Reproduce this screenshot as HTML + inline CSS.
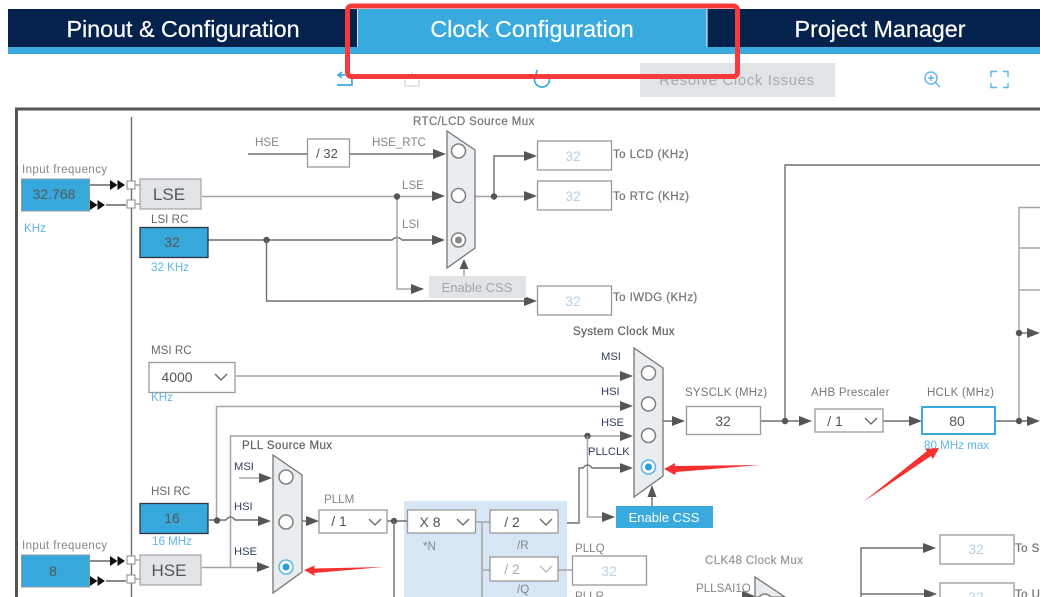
<!DOCTYPE html>
<html><head><meta charset="utf-8"><style>
html,body{margin:0;padding:0;background:#fff;width:1040px;height:597px;overflow:hidden}
svg{display:block;filter:blur(.35px)}
text{font-family:"Liberation Sans",sans-serif}
.w{fill:none;stroke:#6f6f6f;stroke-width:1.4}
.g{fill:none;stroke:#a5a5a5;stroke-width:1.5}
.l{font-size:11.6px;fill:#858585}
.ls{font-size:11.5px;fill:#858585;letter-spacing:.42px}
.b{font-size:11.5px;fill:#777;stroke:#777;stroke-width:.25;letter-spacing:.42px}
.n{font-size:11.2px;fill:#33415f}
.u{font-size:11.6px;fill:#5db6e2}
.v{font-size:14px;fill:#555;text-anchor:middle}
.f{font-size:14px;fill:#b9cfe6;text-anchor:middle}
.box{fill:#fff;stroke:#999;stroke-width:1.3}
.blue{fill:#36a8dc;stroke:#334;stroke-width:1.3}
.blue2{fill:#36a8dc;stroke:#8a9aa5;stroke-width:1}
.gray{fill:#e1e4e7;stroke:#aaa;stroke-width:1.3}
.mux{fill:#e9edf0;stroke:#777;stroke-width:1.3}
.c{fill:#fff;stroke:#808080;stroke-width:1.5}
.dot{fill:#555}
.arr{fill:#555}
.chev{fill:none;stroke:#666;stroke-width:1.3}
.tab{font-size:23.3px;fill:#fff;text-anchor:middle;stroke:#fff;stroke-width:.2}
</style></head><body>
<svg width="1040" height="597" viewBox="0 0 1040 597" xmlns="http://www.w3.org/2000/svg">
<defs>
<path id="a" d="M-13,-5 L0,0 L-13,5 Z" class="arr"/>
<path id="bb" d="M-15,-5 L-7.500,0 L-15,5 Z M-7.500,-5 L0,0 L-7.500,5 Z" fill="#111"/>
</defs>

<!-- header -->
<rect x="8" y="9" width="350" height="38" fill="#04224c"/>
<rect x="358" y="9" width="349" height="38" fill="#39aadd"/>
<rect x="707" y="9" width="333" height="38" fill="#04224c"/>
<rect x="8" y="47" width="1032" height="7" fill="#39aadd"/>
<rect x="357" y="9" width="1" height="38" fill="#dfe8ef"/>
<rect x="706.5" y="9" width="1" height="38" fill="#fff"/>
<text x="183" y="37" class="tab">Pinout &amp; Configuration</text>
<text x="532" y="37" class="tab">Clock Configuration</text>
<text x="880" y="37" class="tab">Project Manager</text>

<!-- toolbar -->
<path d="M337,85 H352 V79 M345,75 H338 M342,72 L338,75 L342,78" fill="none" stroke="#39aadd" stroke-width="1.7"/>
<path d="M405,80 V86 H419 V80 M412,78 V72" fill="none" stroke="#ddd" stroke-width="1.5"/>
<path d="M537,74 A7.500,7.500 0 1 0 547,74 M537,70 L536,75 L541,76" fill="none" stroke="#39aadd" stroke-width="1.7"/>
<rect x="640" y="63" width="195" height="34" fill="#e1e4e7"/>
<text x="737" y="85" font-size="15" fill="#a9a9a9" text-anchor="middle" letter-spacing=".6">Resolve Clock Issues</text>
<circle cx="931" cy="78" r="6" fill="none" stroke="#5db6e2" stroke-width="1.4"/>
<path d="M935.5,82.5 L940,87 M928,78 H934 M931,75 V81" fill="none" stroke="#5db6e2" stroke-width="1.4"/>
<path d="M991,77 V71.5 H997 M1003,71.5 H1008 V77 M1008,83 V87.5 H1003 M997,87.5 H991 V83" fill="none" stroke="#5db6e2" stroke-width="1.4"/>

<!-- frame -->
<path d="M16.5,597 V109 H1040" fill="none" stroke="#555" stroke-width="3"/>
<path d="M131.500,117 V597" class="w"/>

<!-- wires top -->
<path d="M248,154 H308 M350,154 H438" class="w"/>
<use href="#a" x="446" y="154"/>
<path d="M202,196.500 H438" class="g"/>
<use href="#a" x="445" y="196"/>
<path d="M208,240 H392 Q397,235 402,240 H438" class="w"/>
<use href="#a" x="445" y="240"/>
<path d="M397,196 V289 H420" class="g"/>
<use href="#a" x="424" y="289"/>
<circle cx="397" cy="196.500" r="3.200" class="dot"/>
<circle cx="266.500" cy="240" r="3.200" class="dot"/>
<path d="M266.500,240 V301 H530" class="w"/>
<use href="#a" x="537" y="301"/>
<path d="M475,196.500 H530" class="g"/>
<path d="M494,196.500 V156 H530" class="w"/>
<use href="#a" x="537" y="156"/>
<use href="#a" x="537" y="196"/>
<circle cx="494" cy="196.500" r="3.200" class="dot"/>
<path d="M464,276 V262" class="g"/>
<path d="M464,259 L459.500,269 H468.500 Z" class="arr"/>

<!-- far right wires -->
<path d="M785,420 V165 H1040" class="w"/>
<path d="M1019,421 V207.500 H1040 M1019,248 H1040 M1019,290 H1040" class="g"/>
<path d="M1019,333 H1034" class="w"/>
<use href="#a" x="1040" y="333"/>
<circle cx="1019" cy="333" r="3.200" class="dot"/>

<!-- sysclk row -->
<path d="M663,421 H680" class="w"/><use href="#a" x="685" y="421"/>
<path d="M761,421 H805" class="w"/><use href="#a" x="812" y="421"/>
<circle cx="785" cy="421" r="3.200" class="dot"/>
<path d="M883,421 H915" class="w"/><use href="#a" x="922" y="421"/>
<path d="M996,421 H1034" class="w"/><use href="#a" x="1040" y="421"/>
<circle cx="1019" cy="421" r="3.200" class="dot"/>

<!-- system mux inputs -->
<path d="M236,376 H625" class="g"/><use href="#a" x="633" y="376"/>
<path d="M216.500,520 V406.500 H625" class="g"/><use href="#a" x="633" y="406"/>
<path d="M230.500,568 V436 H625" class="g"/><use href="#a" x="633" y="436"/>
<circle cx="587.500" cy="436" r="3.200" class="dot"/>
<path d="M587.500,436 V517 H605" class="g"/><use href="#a" x="615" y="517"/>
<path d="M557,523 H579 V468 H583 Q587.500,462 592,468 H625" class="w"/><use href="#a" x="633" y="468"/>
<path d="M652,506 V490" class="w"/><path d="M652,485 L647.500,497 H656.500 Z" class="arr"/>

<!-- PLL block -->
<rect x="404" y="501" width="163" height="96" fill="#d6e6f4"/>
<path d="M209,520 H226 Q230.500,514 235,520 H264" class="w"/><use href="#a" x="271" y="521"/>
<path d="M239,478 H264" class="g"/><use href="#a" x="272" y="478"/>
<path d="M202,567.500 H262" class="g"/><use href="#a" x="270" y="567"/>
<circle cx="217" cy="520.500" r="3.200" class="dot"/>
<path d="M302,521 H310" class="w"/><use href="#a" x="319" y="521"/>
<path d="M387,521 H407" class="w"/>
<circle cx="394" cy="521" r="3.200" class="dot"/>
<path d="M394,521 V597" class="w"/>
<path d="M476,522 H490 M482,522 V597 M482,570 H490" class="g"/>
<path d="M558,570 H572" class="g"/>

<!-- input freq -->
<text x="22" y="173" class="ls">Input frequency</text>
<rect x="21.500" y="179" width="68" height="32" class="blue2"/>
<text x="54" y="199" class="v">32.768</text>
<text x="24" y="232" class="u">KHz</text>
<path d="M90,185 H110 M126,205 H106" stroke="#444" stroke-width="1.3"/>
<use href="#bb" x="125" y="185"/>
<path d="M105,205 L97.500,200 V210 Z M97.500,205 L90,200 V210 Z" fill="#111"/>
<rect x="127" y="181" width="8" height="8" fill="#fff" stroke="#888"/>
<rect x="127" y="200" width="8" height="8" fill="#fff" stroke="#888"/>
<path d="M135,185 H140 M135,204 H140" class="g"/>
<rect x="140" y="179" width="61" height="30" class="gray"/>
<text x="169" y="200" font-size="17" fill="#555" text-anchor="middle">LSE</text>
<text x="151" y="223" class="l" style="fill:#666">LSI RC</text>
<rect x="140" y="227.500" width="68" height="30" class="blue"/>
<text x="172" y="247" class="v">32</text>
<text x="151" y="271" class="u">32 KHz</text>

<text x="255" y="146" class="l">HSE</text>
<rect x="307.500" y="139" width="42" height="28" class="box"/>
<text x="327" y="158" font-size="13" fill="#555" text-anchor="middle">/ 32</text>
<text x="372" y="146" class="l">HSE_RTC</text>
<text x="402" y="189" class="l">LSE</text>
<text x="402" y="228" class="l">LSI</text>
<text x="413" y="125" class="b">RTC/LCD Source Mux</text>

<!-- RTC mux -->
<polygon points="447,131 475,150 475,248 447,268" class="mux"/>
<circle cx="458.500" cy="151" r="7" class="c"/>
<circle cx="458.500" cy="195.500" r="7" class="c"/>
<circle cx="458.500" cy="240" r="7" class="c"/>
<circle cx="458.500" cy="240" r="3.500" fill="#888"/>
<rect x="429" y="276" width="97" height="22" fill="#e1e4e7"/>
<text x="477" y="292" font-size="13" fill="#a5a5a5" text-anchor="middle">Enable CSS</text>

<!-- outputs -->
<rect x="537.500" y="141" width="74" height="29" class="box"/><text x="573" y="161" class="f">32</text>
<text x="613" y="158" class="b">To LCD (KHz)</text>
<rect x="537.500" y="181" width="74" height="29" class="box"/><text x="573" y="201" class="f">32</text>
<text x="613" y="200" class="b">To RTC (KHz)</text>
<rect x="537.500" y="286" width="74" height="29" class="box"/><text x="573" y="306" class="f">32</text>
<text x="613" y="301" class="b">To IWDG (KHz)</text>

<!-- MSI RC -->
<text x="151" y="354" class="l" style="fill:#666">MSI RC</text>
<rect x="149" y="362.500" width="86" height="30" class="box"/>
<text x="177" y="382" class="v">4000</text>
<path d="M215,374 L221,380 L227,374" class="chev"/>
<text x="151" y="401" class="u">KHz</text>

<!-- HSI RC -->
<text x="151" y="495" class="l" style="fill:#666">HSI RC</text>
<rect x="140" y="503.500" width="68" height="30" class="blue"/>
<text x="172" y="523" class="v">16</text>
<text x="152" y="545" class="u">16 MHz</text>

<!-- input freq 2 -->
<text x="22" y="549" class="ls">Input frequency</text>
<rect x="21.500" y="555" width="68" height="32" class="blue2"/>
<text x="53" y="576" class="v">8</text>
<path d="M90,561 H110 M126,581 H106" stroke="#444" stroke-width="1.3"/>
<use href="#bb" x="125" y="561"/>
<path d="M105,581 L97.500,576 V586 Z M97.500,581 L90,576 V586 Z" fill="#111"/>
<rect x="127" y="556" width="8" height="8" fill="#fff" stroke="#888"/>
<rect x="127" y="575" width="8" height="8" fill="#fff" stroke="#888"/>
<path d="M135,560 H140 M135,579 H140" class="g"/>
<rect x="140" y="555" width="61" height="30" class="gray"/>
<text x="169" y="576" font-size="17" fill="#555" text-anchor="middle">HSE</text>

<!-- PLL mux -->
<text x="242" y="449" class="b" style="fill:#666;stroke:#666">PLL Source Mux</text>
<text x="234" y="470" class="n">MSI</text>
<text x="234" y="510" class="n">HSI</text>
<text x="234" y="555" class="n">HSE</text>
<polygon points="273,455 302,475 302,572 273,593" class="mux"/>
<circle cx="286" cy="477" r="7" class="c"/>
<circle cx="286" cy="522" r="7" class="c"/>
<circle cx="286" cy="567" r="7" fill="#fff" stroke="#5db6e2" stroke-width="1.5"/>
<circle cx="286" cy="567" r="3.500" fill="#2b9fd9"/>

<text x="324" y="503" class="l">PLLM</text>
<rect x="319" y="510" width="68" height="23" class="box"/>
<text x="339" y="526" class="v">/ 1</text>
<path d="M369,519 L375,525 L381,519" class="chev"/>

<rect x="407.500" y="510" width="68" height="23" class="box"/>
<text x="430" y="527" class="v">X 8</text>
<path d="M457,519 L463,525 L469,519" class="chev"/>
<text x="423" y="550" class="l">*N</text>
<rect x="490" y="510" width="68" height="23" class="box"/>
<text x="512" y="527" class="v">/ 2</text>
<path d="M540,519 L546,525 L552,519" class="chev"/>
<text x="517" y="549" class="l">/R</text>
<rect x="490" y="557" width="68" height="24" class="box"/>
<text x="512" y="574" class="f" style="fill:#aaa">/ 2</text>
<path d="M540,566 L546,572 L552,566" class="chev" style="stroke:#bbb"/>
<text x="517" y="593" class="l">/Q</text>

<text x="575" y="552" class="l">PLLQ</text>
<rect x="572.500" y="556" width="74" height="29" class="box"/><text x="609" y="576" class="f">32</text>
<text x="575" y="600" class="l">PLLR</text>

<!-- system mux -->
<text x="573" y="335" class="b" style="fill:#666;stroke:#666">System Clock Mux</text>
<text x="601" y="360" class="n">MSI</text>
<text x="601" y="395" class="n">HSI</text>
<text x="601" y="426" class="n">HSE</text>
<text x="588" y="455" class="n">PLLCLK</text>
<polygon points="634,348 663,368 663,476 634,497" class="mux"/>
<circle cx="648.500" cy="373" r="7" class="c"/>
<circle cx="648.500" cy="404" r="7" class="c"/>
<circle cx="648.500" cy="435.500" r="7" class="c"/>
<circle cx="648.500" cy="467" r="7" fill="#fff" stroke="#5db6e2" stroke-width="1.5"/>
<circle cx="648.500" cy="467" r="3.500" fill="#2b9fd9"/>
<rect x="616" y="506" width="97" height="22" fill="#39aadd"/>
<text x="664" y="522" font-size="13" fill="#fff" text-anchor="middle">Enable CSS</text>

<!-- sysclk -->
<text x="685" y="396" class="ls" style="letter-spacing:.2px;fill:#777">SYSCLK (MHz)</text>
<rect x="686.500" y="406.500" width="74" height="28" class="box"/>
<text x="723" y="426" class="v">32</text>
<text x="811" y="396" class="ls" style="letter-spacing:.25px;fill:#777">AHB Prescaler</text>
<rect x="815" y="409" width="68" height="23" class="box"/>
<text x="835" y="426" class="v">/ 1</text>
<path d="M865,418 L871,424 L877,418" class="chev"/>
<text x="927" y="396" class="ls" style="letter-spacing:.2px;fill:#777">HCLK (MHz)</text>
<rect x="922" y="407" width="73" height="27" fill="#fff" stroke="#39aadd" stroke-width="2"/>
<text x="957" y="426" class="v">80</text>
<text x="924" y="449" class="u">80 MHz max</text>

<!-- clk48 -->
<text x="705" y="564" class="b" style="fill:#999;stroke:#999">CLK48 Clock Mux</text>
<text x="696" y="592" class="l">PLLSAI1Q</text>
<polygon points="755,577 785,597 755,597" class="mux"/>
<circle cx="765" cy="601" r="7" class="c"/>
<use href="#a" x="755" y="596"/>

<!-- bottom right -->
<path d="M861,597 V548 H930 M861,594 H930" class="w"/>
<use href="#a" x="936" y="548"/>
<use href="#a" x="937" y="594"/>
<rect x="940" y="535" width="74" height="29" class="box"/><text x="976" y="554" class="f">32</text>
<text x="1015" y="552" class="b">To S</text>
<rect x="940" y="583" width="74" height="29" class="box"/><text x="976" y="602" class="f">32</text>
<text x="1015" y="598" class="b">To U</text>

<!-- annotations -->
<rect x="347.500" y="6" width="390" height="70.500" rx="4" fill="none" stroke="#f83a3c" stroke-width="5"/>
<polygon points="304,570 315,565.500 314,568.500 384,567 314,573 315,576" fill="#f5302f"/>
<polygon points="664,469 675,463 675,466 760,465 676,472 675,475" fill="#f5302f"/>
<polygon points="939,448 933,459 931,456 863,502 927,451 925,449" fill="#f5302f"/>
</svg>
</body></html>
